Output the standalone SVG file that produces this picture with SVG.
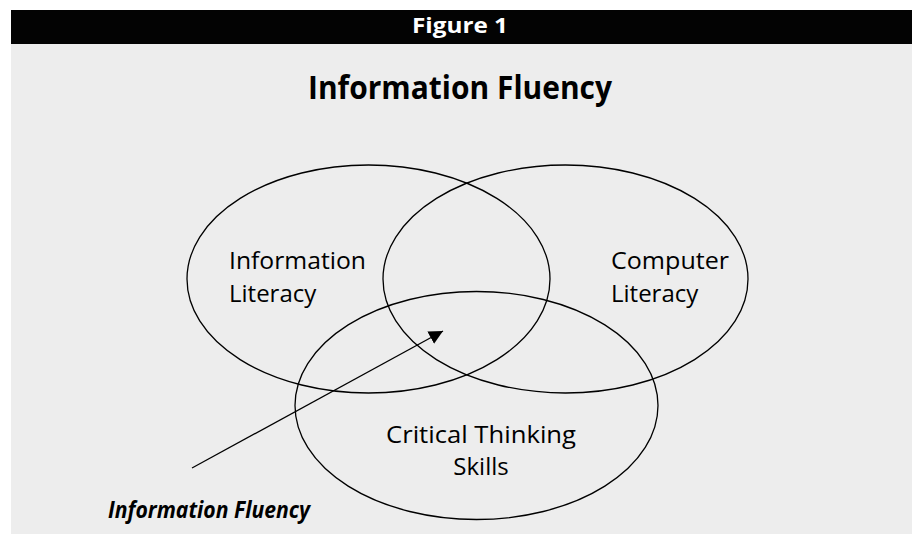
<svg xmlns="http://www.w3.org/2000/svg" width="912" height="534" viewBox="0 0 912 534">
  <defs>
    <marker id="arrowhead" viewBox="0 0 10 10" refX="10" refY="5" markerWidth="14" markerHeight="14" markerUnits="userSpaceOnUse" orient="auto">
      <path d="M0,0 L10,5 L0,10 Z" fill="#000"/>
    </marker>
  </defs>
  <style>
    .panel { fill: #ededed; }
    .bar { fill: #030303; }
    .head { font-family: "Open Sans", "Noto Sans", sans-serif; font-weight: bold; text-anchor: middle; }
    .label { font-family: "Open Sans", "Noto Sans", sans-serif; font-size: 24px; fill: #000; }
    .set { fill: none; stroke: #000; stroke-width: 1.3; }
    .pointer { stroke: #000; stroke-width: 1.3; fill: none; }
  </style>

  <rect width="912" height="534" fill="#ffffff"/>
  <rect class="panel" x="11" y="10" width="901" height="524"/>
  <rect class="bar" x="11" y="10" width="901" height="34"/>
  <text class="head" x="460" y="33" font-size="22" fill="#fff" textLength="96" lengthAdjust="spacingAndGlyphs">Figure 1</text>
  <text class="head" x="460" y="99" font-size="32" fill="#000" textLength="304" lengthAdjust="spacingAndGlyphs">Information Fluency</text>

  <g id="information-literacy">
    <ellipse class="set" cx="368.5" cy="279" rx="181.5" ry="114"/>
    <text class="label" x="229" y="269" textLength="137" lengthAdjust="spacingAndGlyphs">Information</text>
    <text class="label" x="229" y="302">Literacy</text>
  </g>

  <g id="computer-literacy">
    <ellipse class="set" cx="565.5" cy="279" rx="182.5" ry="114"/>
    <text class="label" x="611" y="269" textLength="118" lengthAdjust="spacingAndGlyphs">Computer</text>
    <text class="label" x="611" y="302">Literacy</text>
  </g>

  <g id="critical-thinking">
    <ellipse class="set" cx="476.5" cy="405.5" rx="181.5" ry="114"/>
    <text class="label" x="481" y="443" text-anchor="middle" textLength="190" lengthAdjust="spacingAndGlyphs">Critical Thinking</text>
    <text class="label" x="481" y="475" text-anchor="middle">Skills</text>
  </g>

  <g id="connectors">
    <line class="pointer" x1="192" y1="468" x2="443" y2="331" marker-end="url(#arrowhead)"/>
  </g>

  <g id="fluency-label">
    <text class="label" x="108" y="518" font-size="22" font-weight="bold" font-style="italic" textLength="202" lengthAdjust="spacingAndGlyphs">Information Fluency</text>
  </g>
</svg>
